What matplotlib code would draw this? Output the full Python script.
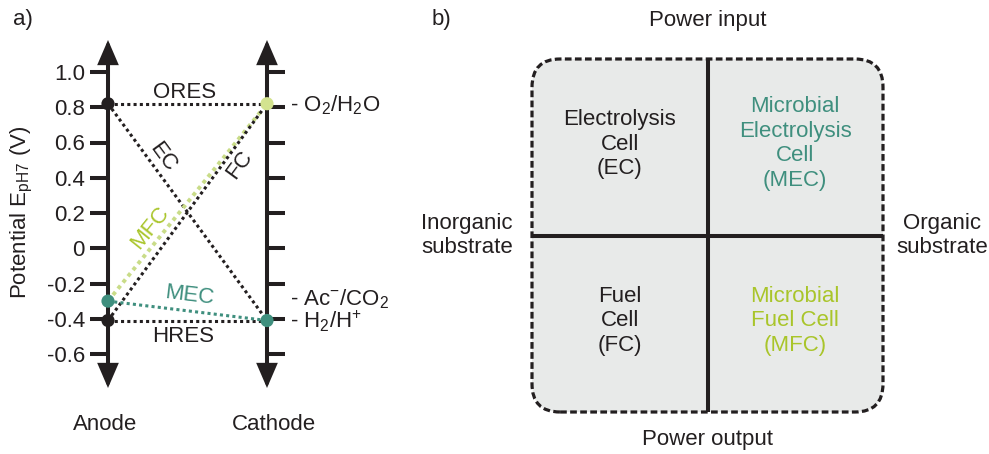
import matplotlib
matplotlib.use('Agg')
import numpy as np
import matplotlib.pyplot as plt
from matplotlib.patches import FancyArrowPatch, FancyBboxPatch

plt.rcParams['font.family'] = ['Liberation Sans', 'DejaVu Sans']
plt.rcParams['mathtext.default'] = 'regular'

# ---------------- data ----------------
ytick_values = [1.0, 0.8, 0.6, 0.4, 0.2, 0.0, -0.2, -0.4, -0.6]
ytick_labels = ['1.0', '0.8', '0.6', '0.4', '0.2', '0', '-0.2', '-0.4', '-0.6']

couple_labels = ['O$_2$/H$_2$O', 'Ac$^{-}$/CO$_2$', 'H$_2$/H$^{+}$']
couple_potentials = [0.82, -0.28, -0.41]

process_names = ['ORES', 'HRES', 'EC', 'FC', 'MFC', 'MEC']
process_anode = [0.82, -0.41, 0.82, -0.41, -0.30, -0.30]
process_cathode = [0.82, -0.41, -0.41, 0.82, 0.82, -0.41]

anode_points = [0.82, -0.41, -0.30]
cathode_points = [0.82, -0.41]

electrode_labels = ['Anode', 'Cathode']

quadrant_labels = ['Electrolysis\nCell\n(EC)', 'Microbial\nElectrolysis\nCell\n(MEC)',
                   'Fuel\nCell\n(FC)', 'Microbial\nFuel Cell\n(MFC)']
side_labels = ['Power input', 'Power output', 'Inorganic\nsubstrate', 'Organic\nsubstrate']

# ---------------- styles ----------------
DARK = '#231f20'
TEAL = '#3f8f7e'
LIME_TXT = '#a9c52a'
LIME_LINE = '#c9dc88'
LIME_PT = '#d3e38f'
GRAY = '#e8eae9'
FS = 16
LS = 1.22

process_style = {
    'ORES': dict(color=DARK, lw=2.2, tcolor=DARK, t=0.48, d=11),
    'HRES': dict(color=DARK, lw=2.2, tcolor=DARK, t=0.47, d=-16),
    'EC':   dict(color=DARK, lw=2.2, tcolor=DARK, t=0.28, d=12),
    'FC':   dict(color=DARK, lw=2.2, tcolor=DARK, t=0.757, d=-14),
    'MFC':  dict(color=LIME_LINE, lw=2.8, tcolor=LIME_TXT, t=0.33, d=13),
    'MEC':  dict(color=TEAL, lw=2.2, tcolor=TEAL, t=0.50, d=15),
}
draw_order = ['ORES', 'HRES', 'EC', 'MFC', 'FC', 'MEC']
anode_colors = [DARK, DARK, TEAL]
cathode_colors = [LIME_PT, TEAL]

W, H, DPI = 989, 454, 100
fig = plt.figure(figsize=(W / DPI, H / DPI), dpi=DPI)


def px(x, y):
    return x / W, 1 - y / H


# ---------------- panel a ----------------
top_px, bot_px = 40, 388
ax = fig.add_axes([108 / W, (H - bot_px) / H, 159 / W, (bot_px - top_px) / H])
ax.set_xlim(0, 1)
# pixel -> volt mapping: 1.0 V at y=72, -0.6 V at y=354
v_per_px = 1.6 / (354 - 72)
ax.set_ylim(1.0 - (bot_px - 72) * v_per_px, 1.0 + (72 - top_px) * v_per_px)
ax.patch.set_visible(False)
for s in ax.spines.values():
    s.set_visible(False)
ax.set_xticks([])
ax.set_yticks(ytick_values, ytick_labels)
ax.tick_params(axis='y', left=True, right=True, labelleft=True, labelright=False,
               direction='out', length=13, width=2.9, pad=3.6, labelsize=FS,
               color=DARK, labelcolor=DARK)

for xpos in [0, 1]:
    arr = FancyArrowPatch((xpos, 0.0), (xpos, 1.0), transform=ax.get_xaxis_transform(),
                          arrowstyle='<|-|>,head_length=13,head_width=5.6',
                          mutation_scale=1, lw=2.9, color=DARK, clip_on=False,
                          shrinkA=0, shrinkB=0, joinstyle='miter', zorder=3)
    ax.add_patch(arr)

fig.canvas.draw()
for name in draw_order:
    i = process_names.index(name)
    st = process_style[name]
    va_, vc_ = process_anode[i], process_cathode[i]
    ax.plot([0, 1], [va_, vc_], color=st['color'], lw=st['lw'],
            linestyle=(0, (1, 1.05)), dash_capstyle='butt', clip_on=False, zorder=2)
    p0 = ax.transData.transform((0, va_))
    p1 = ax.transData.transform((1, vc_))
    d = p1 - p0
    ang = np.degrees(np.arctan2(d[1], d[0]))
    n = np.array([-d[1], d[0]]) / np.hypot(*d)
    off = n * st['d'] * 72 / DPI
    t = st['t']
    ax.annotate(name, xy=(t, va_ + t * (vc_ - va_)), xytext=(off[0], off[1]),
                textcoords='offset points', ha='center', va='center',
                rotation=ang, rotation_mode='anchor', fontsize=FS,
                color=st['tcolor'], annotation_clip=False)

ax.scatter([0] * len(anode_points), anode_points, s=90, c=anode_colors,
           zorder=4, clip_on=False, linewidths=0)
ax.scatter([1] * len(cathode_points), cathode_points, s=90, c=cathode_colors,
           zorder=4, clip_on=False, linewidths=0)

for lab, v in zip(couple_labels, couple_potentials):
    ax.annotate('- ' + lab, xy=(1, v), xytext=(16.5, -5.8), textcoords='offset points',
                ha='left', va='baseline', fontsize=FS, color=DARK, annotation_clip=False)

ax.text(-0.02, -0.106, electrode_labels[0], transform=ax.get_xaxis_transform(),
        ha='center', va='center', fontsize=FS, color=DARK)
ax.text(1.044, -0.106, electrode_labels[1], transform=ax.get_xaxis_transform(),
        ha='center', va='center', fontsize=FS, color=DARK)

fig.text(*px(22, 212), 'Potential E$_{pH7}$ (V)', rotation=90, ha='center', va='center',
         fontsize=FS, color=DARK)
fig.text(*px(23, 20), 'a)', ha='center', va='center', fontsize=FS, color=DARK)
fig.text(*px(441, 20), 'b)', ha='center', va='center', fontsize=FS, color=DARK)

# ---------------- panel b ----------------
bx0, bx1, by0, by1 = 532, 883, 59, 412
axb = fig.add_axes([bx0 / W, (H - by1) / H, (bx1 - bx0) / W, (by1 - by0) / H])
axb.set_xlim(0, 1)
axb.set_ylim(0, 1)
axb.axis('off')
box = FancyBboxPatch((0, 0), 1, 1, boxstyle='round,pad=0,rounding_size=0.08',
                     fc=GRAY, ec=DARK, lw=2.3, ls=(0, (2.1, 1.05)), clip_on=False,
                     transform=axb.transAxes)
axb.add_patch(box)
axb.plot([0.5, 0.5], [0, 1], color=DARK, lw=2.9, solid_capstyle='butt', clip_on=False)
axb.plot([0, 1], [0.5, 0.5], color=DARK, lw=2.9, solid_capstyle='butt', clip_on=False)

quad_pos = [(0.25, 0.759), (0.75, 0.76), (0.25, 0.258), (0.75, 0.258)]
quad_colors = [DARK, TEAL, DARK, LIME_TXT]
for lab, (x, y), c in zip(quadrant_labels, quad_pos, quad_colors):
    axb.text(x, y, lab, ha='center', va='center', fontsize=FS, color=c,
             linespacing=LS, multialignment='center')

side_pos = [(0.5, 1.11), (0.5, -0.079), (-0.185, 0.5), (1.168, 0.5)]
for lab, (x, y) in zip(side_labels, side_pos):
    axb.text(x, y, lab, ha='center', va='center', fontsize=FS, color=DARK,
             linespacing=LS, multialignment='center', clip_on=False)

fig.savefig('out.png', dpi=DPI)
